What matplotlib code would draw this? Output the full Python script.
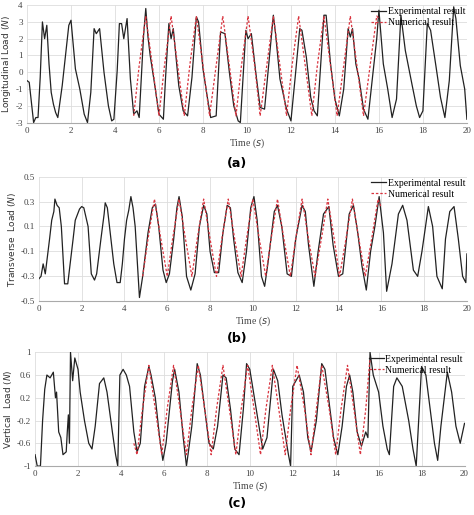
import numpy as np
import matplotlib
matplotlib.use("Agg")
import matplotlib.pyplot as plt

# ─── Data ─────────────────────────────────────────────────────────────────────
# (a) longitudinal load
A_EXP_T = [0, 0.1, 0.2, 0.3, 0.4, 0.5, 0.6, 0.7, 0.8, 0.9, 1.0, 1.1, 1.2, 1.3, 1.4, 1.6, 1.9, 2.0,
           2.2, 2.4, 2.6, 2.75, 2.9, 3.05, 3.15, 3.3, 3.5, 3.7, 3.85, 3.95, 4.1, 4.2, 4.3, 4.4, 4.55,
           4.7, 4.85, 5.0, 5.1, 5.3, 5.4, 5.5, 5.6, 5.8, 6.0, 6.2, 6.3, 6.45, 6.55, 6.65, 6.9, 7.1,
           7.3, 7.5, 7.7, 7.8, 8.0, 8.2, 8.35, 8.6, 8.8, 9.0, 9.2, 9.4, 9.6, 9.7, 9.95, 10.05, 10.2,
           10.4, 10.6, 10.8, 11.2, 11.3, 11.5, 11.8, 12.0, 12.2, 12.4, 12.5, 12.7, 12.9, 13.05, 13.2,
           13.5, 13.6, 13.8, 14.0, 14.2, 14.4, 14.6, 14.7, 14.8, 14.95, 15.1, 15.3, 15.5, 15.7, 15.9,
           16.0, 16.2, 16.4, 16.6, 16.8, 17.0, 17.2, 17.5, 17.7, 17.85, 18.0, 18.2, 18.35, 18.6, 18.8,
           19.0, 19.2, 19.4, 19.5, 19.7, 19.9, 20]
A_EXP_V = [-0.5, -0.6, -1.8, -3, -2.7, -2.7, -0.3, 3.0, 2.0, 2.8, 0.5, -1.2, -1.9, -2.4, -2.7, -0.8, 2.8, 3.1,
           0.2, -1, -2.5, -3, -1.2, 2.6, 2.3, 2.6, 0, -2, -2.9, -2.8, 0.1, 2.9, 2.9, 2.0, 3.2,
           -0.4, -2.5, -2.3, -2.7, 2.2, 3.8, 2.1, 1.0, -0.7, -2.5, -2.8, -0.3, 2.9, 2.0, 2.6, -0.8, -2.3,
           -2.6, -0.3, 3.3, 3.0, 0.2, -1.5, -2.7, -2.6, 2.4, 2.3, 0, -2.0, -2.9, -3, 2.5, 2.0, 2.3,
           0, -2.1, -2.2, 3.4, 2.3, -0.4, -2.2, -2.9, -0.2, 2.6, 2.5, 0.9, -1.5, -2.3, -2.6,
           3.4, 3.4, 0.5, -1.6, -2.6, -1.0, 2.6, 2.1, 2.6, 0.5, -0.4, -2.2, -2.8, -0.4, 2.0,
           3.7, 0.5, -1, -2.7, -1.6, 3.4, 1.3, -0.7, -2.0, -2.7, -2.3, 2.9, 2.5, 0.3, -1.5,
           -2.7, -0.5, 3.9, 3.2, 0.4, -1, -2.8]
A_NUM_T = [4.85, 5.1, 5.4, 5.7, 6.0, 6.25, 6.55, 6.85, 7.15, 7.4, 7.7, 8.0, 8.3, 8.6, 8.9, 9.2,
           9.5, 9.75, 10.05, 10.35, 10.6, 10.9, 11.2, 11.5, 11.8, 12.05, 12.35, 12.65, 12.95, 13.2,
           13.5, 13.8, 14.1, 14.4, 14.7, 15.0, 15.3, 15.6, 15.9, 16.0]
A_NUM_V = [-2.6, 0.4, 3.35, 0.4, -2.6, 0.4, 3.35, 0.4, -2.6, 0.4, 3.35, 0.4, -2.6, 0.4, 3.35, 0.4,
           -2.6, 0.4, 3.35, 0.4, -2.6, 0.4, 3.35, 0.4, -2.6, 0.4, 3.35, 0.4, -2.6, 0.4,
           3.35, 0.4, -2.6, 0.4, 3.35, 0.4, -2.6, 0.4, 3.35, 3.2]

# (b) transverse load
B_EXP_T = [0, 0.1, 0.2, 0.3, 0.5, 0.6, 0.7, 0.75, 0.85, 0.95, 1.05, 1.2, 1.35, 1.6, 1.7, 1.9, 2.0, 2.1,
           2.3, 2.45, 2.6, 2.7, 2.9, 3.05, 3.1, 3.2, 3.3, 3.5, 3.65, 3.8, 3.9, 4.0, 4.1, 4.2, 4.3, 4.4,
           4.5, 4.7, 4.85, 5.1, 5.3, 5.45, 5.6, 5.8, 5.95, 6.1, 6.3, 6.45, 6.55, 6.7, 6.9, 7.1, 7.3,
           7.5, 7.7, 7.85, 8.0, 8.2, 8.4, 8.6, 8.8, 8.95, 9.1, 9.3, 9.5, 9.7, 9.9, 10.05, 10.2, 10.4,
           10.55, 10.7, 11.0, 11.15, 11.35, 11.6, 11.8, 12.0, 12.3, 12.45, 12.6, 12.85, 13.05, 13.3,
           13.55, 13.75, 14.0, 14.2, 14.5, 14.7, 14.9, 15.1, 15.3, 15.5, 15.7, 15.9, 16.1, 16.25,
           16.5, 16.8, 17.0, 17.2, 17.5, 17.7, 17.9, 18.2, 18.4, 18.6, 18.85, 19.0, 19.2, 19.4, 19.6,
           19.8, 19.95, 20]
B_EXP_V = [-0.32, -0.3, -0.2, -0.28, 0.0, 0.15, 0.22, 0.32, 0.27, 0.25, 0.1, -0.36, -0.36, 0.0, 0.15, 0.24, 0.26, 0.25,
           0.1, -0.28, -0.33, -0.28, 0.0, 0.2, 0.29, 0.25, 0.1, -0.2, -0.35, -0.35, -0.2, 0.0, 0.15, 0.23, 0.34, 0.25,
           0.1, -0.47, -0.3, 0.05, 0.25, 0.28, 0.1, -0.25, -0.35, -0.28, 0.0, 0.25, 0.34, 0.18, -0.3, -0.41, -0.28,
           0.1, 0.27, 0.2, -0.1, -0.27, -0.27, 0.05, 0.27, 0.25, 0.0, -0.27, -0.35, -0.1, 0.25, 0.34, 0.15, -0.3,
           -0.38, -0.2, 0.22, 0.27, 0.1, -0.28, -0.3, 0.0, 0.27, 0.22, -0.05, -0.38, -0.1, 0.2,
           0.26, -0.05, -0.3, -0.28, 0.2, 0.27, 0.05, -0.22, -0.41, -0.1, 0.1, 0.34, 0.05, -0.42,
           -0.2, 0.2, 0.27, 0.15, -0.25, -0.3, -0.1, 0.26, 0.1, -0.3, -0.4, 0.0, 0.22, 0.26, 0.0,
           -0.3, -0.35, -0.12]
B_NUM_T = [4.85, 5.1, 5.4, 5.7, 6.0, 6.25, 6.55, 6.85, 7.15, 7.4, 7.7, 8.0, 8.3, 8.55, 8.85, 9.15,
           9.45, 9.7, 10.0, 10.3, 10.6, 10.85, 11.15, 11.45, 11.75, 12.0, 12.3, 12.6, 12.9, 13.2,
           13.5, 13.8, 14.05, 14.35, 14.65, 14.95, 15.25, 15.55, 15.85, 16.0]
B_NUM_V = [-0.3, 0.0, 0.32, 0.0, -0.3, 0.0, 0.32, 0.0, -0.3, 0.0, 0.32, 0.0, -0.3, 0.0, 0.32, 0.0,
           -0.3, 0.0, 0.32, 0.0, -0.3, 0.0, 0.32, 0.0, -0.3, 0.0, 0.32, 0.0, -0.3, 0.0,
           0.32, 0.0, -0.3, 0.0, 0.32, 0.0, -0.3, 0.0, 0.32, 0.25]

# (c) vertical load
C_EXP_T = [0, 0.1, 0.25, 0.35, 0.45, 0.55, 0.7, 0.85, 0.95, 1.0, 1.1, 1.2, 1.3, 1.45, 1.5, 1.55, 1.6,
           1.65, 1.75, 1.85, 2.0, 2.1, 2.3, 2.5, 2.65, 2.8, 3.0, 3.2, 3.35, 3.6, 3.75, 3.85, 3.95,
           4.1, 4.25, 4.4, 4.6, 4.75, 4.9, 5.1, 5.3, 5.4, 5.6, 5.8, 5.95, 6.1, 6.4, 6.5, 6.7, 6.9,
           7.05, 7.3, 7.55, 7.7, 7.9, 8.1, 8.3, 8.5, 8.75, 8.9, 9.1, 9.3, 9.5, 9.7, 9.85, 10.0, 10.3,
           10.6, 10.8, 11.1, 11.3, 11.5, 11.8, 11.9, 12.0, 12.3, 12.5, 12.7, 12.85, 13.1, 13.35, 13.5,
           13.7, 13.9, 14.1, 14.3, 14.5, 14.65, 14.8, 15.0, 15.2, 15.4, 15.5, 15.6, 15.75, 16.0,
           16.2, 16.4, 16.5, 16.7, 16.85, 17.1, 17.4, 17.6, 17.75, 17.85, 18.0, 18.2, 18.4, 18.6,
           18.75, 18.9, 19.2, 19.4, 19.6, 19.8, 20]
C_EXP_V = [-0.8, -1, -1, -0.2, 0.35, 0.6, 0.55, 0.65, 0.2, 0.3, -0.4, -0.5, -0.8, -0.75, -0.4, -0.1, -0.6,
           1.0, 0.5, 0.9, 0.7, 0.3, -0.2, -0.6, -0.7, -0.3, 0.45, 0.55, 0.3, -0.4, -0.8, -1, 0.6,
           0.7, 0.6, 0.4, -0.4, -0.75, -0.6, 0.4, 0.75, 0.6, 0.2, -0.5, -0.9, -0.6, 0.5, 0.7, 0.3, -0.5,
           -1, -0.3, 0.8, 0.6, 0.0, -0.6, -0.7, -0.3, 0.6, 0.55, 0.0, -0.7, -0.8, 0.0, 0.8, 0.7, 0.0,
           -0.7, -0.5, 0.7, 0.5, -0.1, -0.8, -1, 0.4, 0.6, 0.3, -0.5, -0.75, -0.2, 0.8, 0.7,
           0.1, -0.5, -0.8, -0.3, 0.4, 0.6, 0.3, -0.4, -0.65, -0.4, -0.5, 1.0, 0.6, 0.3,
           -0.3, -0.7, -0.8, 0.4, 0.55, 0.4, -0.2, -0.7, -1, -0.3, 0.75, 0.6, 0.0, -0.6,
           -0.9, -0.3, 0.65, 0.3, -0.3, -0.6, -0.25]
C_NUM_T = [4.6, 4.75, 5.0, 5.3, 5.6, 5.9, 6.15, 6.45, 6.75, 7.05, 7.3, 7.6, 7.9, 8.2, 8.45, 8.75,
           9.05, 9.35, 9.6, 9.9, 10.2, 10.5, 10.75, 11.05, 11.35, 11.65, 11.9, 12.2, 12.55, 12.85,
           13.1, 13.35, 13.7, 14.0, 14.25, 14.55, 14.85, 15.15, 15.4, 15.6]
C_NUM_V = [-0.6, -0.8, 0.0, 0.77, 0.0, -0.8, 0.0, 0.77, 0.0, -0.8, 0.0, 0.77, 0.0, -0.8, 0.0, 0.77,
           0.0, -0.8, 0.0, 0.77, 0.0, -0.8, 0.0, 0.77, 0.0, -0.8, 0.0, 0.77, 0.0, -0.8,
           0.0, 0.77, 0.0, -0.8, 0.0, 0.77, 0.0, -0.8, 0.0, 0.9]

PANELS = [
    ("Longitudinal Load ($N$)", A_EXP_T, A_EXP_V, A_NUM_T, A_NUM_V, (-3, 4), np.arange(-3, 5, 1), "(a)"),
    ("Transverse  Load ($N$)", B_EXP_T, B_EXP_V, B_NUM_T, B_NUM_V, (-0.5, 0.5), [-0.5, -0.3, -0.1, 0.1, 0.3, 0.5], "(b)"),
    ("Vertical  Load ($N$)", C_EXP_T, C_EXP_V, C_NUM_T, C_NUM_V, (-1, 1), [-1, -0.6, -0.2, 0.2, 0.6, 1], "(c)"),
]

# ─── Plot ─────────────────────────────────────────────────────────────────────
fig = plt.figure(figsize=(4.74, 5.15), dpi=100)
boxes = [(0.057, 0.762, 0.928, 0.228),
         (0.082, 0.415, 0.903, 0.242),
         (0.074, 0.095, 0.906, 0.221)]
lab_y = [0.683, 0.343, 0.022]
serif = "Liberation Serif"

for (ylabel, et, ev, nt, nv, ylim, yt, tag), box, ly in zip(PANELS, boxes, lab_y):
    ax = fig.add_axes(box)
    ax.plot(et, ev, color="#222222", lw=0.9, label="Experimental result")
    ax.plot(nt, nv, color="#d9343f", lw=0.9, ls=(0, (2, 1.5)), label="Numerical result")
    ax.set_xlim(0, 20)
    ax.set_ylim(*ylim)
    ax.set_xticks(range(0, 21, 2))
    ax.set_yticks(yt)
    ax.set_yticklabels([f"{v:g}" for v in yt])
    ax.grid(color="#dddddd", lw=0.6)
    for s in ["top", "right", "left"]:
        ax.spines[s].set_visible(False)
    ax.spines["bottom"].set_color("#aaaaaa")
    ax.tick_params(length=0, labelsize=6.5, pad=3, colors="#444444")
    for lbl in ax.get_xticklabels() + ax.get_yticklabels():
        lbl.set_fontfamily(serif)
    ax.set_xlabel("Time ($s$)", fontsize=7, family=serif, color="#444444", labelpad=1)
    ax.set_ylabel(ylabel, fontsize=6.5, color="#333333", labelpad=2)
    ax.legend(loc="upper right", frameon=False, handlelength=1.5, handletextpad=0.2,
              borderpad=0.1, labelspacing=0.2, prop={"family": serif, "size": 7},
              bbox_to_anchor=(1.01, 1.03))
    fig.text(0.5, ly, tag, ha="center", va="center", fontsize=9, fontweight="bold")

plt.savefig("out.png", dpi=100)
